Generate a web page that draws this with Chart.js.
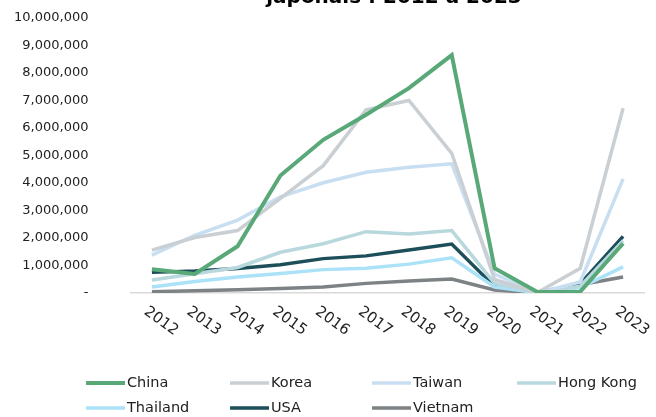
<!DOCTYPE html>
<html>
<head>
<meta charset="utf-8">
<script src="https://cdn.jsdelivr.net/npm/chart.js@4"></script>
<style>
  html, body { margin: 0; padding: 0; background: #fff; }
  #wrap { position: relative; width: 656px; height: 417px; }
</style>
</head>
<body>
<div id="wrap"><canvas id="visitorsChart" width="656" height="417"></canvas></div>
<script>
const years = ['2012', '2013', '2014', '2015', '2016', '2017', '2018', '2019', '2020', '2021', '2022', '2023'];

const china    = [860000, 690000, 1700000, 4270000, 5570000, 6480000, 7450000, 8650000, 900000, 40000, 50000, 1800000];
const korea    = [1560000, 2020000, 2270000, 3440000, 4630000, 6660000, 7000000, 5080000, 490000, 20000, 900000, 6720000];
const taiwan   = [1380000, 2100000, 2650000, 3500000, 4010000, 4390000, 4570000, 4700000, 690000, 5000, 400000, 4150000];
const hongKong = [470000, 700000, 930000, 1480000, 1790000, 2230000, 2150000, 2270000, 350000, 2000, 250000, 1900000];
const thailand = [220000, 420000, 580000, 710000, 850000, 900000, 1050000, 1280000, 220000, 5000, 200000, 950000];
const usa      = [750000, 800000, 890000, 1030000, 1250000, 1350000, 1560000, 1780000, 230000, 20000, 330000, 2060000];
const vietnam  = [50000, 80000, 120000, 160000, 220000, 350000, 440000, 510000, 110000, 5000, 300000, 580000];

const yTicks = [0, 1000000, 2000000, 3000000, 4000000, 5000000, 6000000, 7000000, 8000000, 9000000, 10000000];

const titleText = 'japonais : 2012 à 2023';

const ctx = document.getElementById('visitorsChart').getContext('2d');

const series = [
    { label: 'China', data: china, color: '#58a878', width: 4 },
    { label: 'Korea', data: korea, color: '#c9cfd3', width: 3.5 },
    { label: 'Taiwan', data: taiwan, color: '#c8def1', width: 3.5 },
    { label: 'Hong Kong', data: hongKong, color: '#b8d8dd', width: 3.5 },
    { label: 'Thailand', data: thailand, color: '#abe2f8', width: 3.5 },
    { label: 'USA', data: usa, color: '#1c4f59', width: 3.5 },
    { label: 'Vietnam', data: vietnam, color: '#7d8285', width: 3.5 }
];

// title (only its last line is inside the picture), rotated year labels, grid legend
const extras = {
    id: 'extras',
    afterDraw(chart) {
        const c = chart.ctx;
        const x = chart.scales.x;
        c.save();
        c.fillStyle = '#000';
        c.font = 'bold 20px "DejaVu Sans"';
        c.textAlign = 'center';
        c.textBaseline = 'alphabetic';
        c.fillText(titleText, 394, 3);

        c.font = '15px "DejaVu Sans"';
        c.fillStyle = '#222';
        c.textAlign = 'left';
        c.textBaseline = 'top';
        years.forEach((y, i) => {
            const px = x.getPixelForValue(i);
            c.save();
            c.translate(px - 2, 304);
            c.rotate(36 * Math.PI / 180);
            c.fillText(y, 0, 0);
            c.restore();
        });

        c.font = '14.5px "DejaVu Sans"';
        c.textBaseline = 'middle';
        c.lineCap = 'butt';
        const cols = [86, 230, 372, 517];
        const rows = [383, 408];
        chart.data.datasets.forEach((ds, i) => {
            const lx = cols[i % 4];
            const ly = rows[Math.floor(i / 4)];
            c.strokeStyle = ds.borderColor;
            c.lineWidth = ds.borderWidth;
            c.beginPath();
            c.moveTo(lx, ly);
            c.lineTo(lx + 39, ly);
            c.stroke();
            c.fillStyle = '#222';
            c.fillText(ds.label, lx + 41, ly);
        });
        c.restore();
    }
};

const visitorsChart = new Chart(ctx, {
    type: 'line',
    data: {
        labels: years,
        datasets: series.map(s => ({
            label: s.label,
            data: s.data,
            borderColor: s.color,
            backgroundColor: s.color,
            borderWidth: s.width,
            pointRadius: 0,
            tension: 0,
            fill: false
        }))
    },
    options: {
        responsive: false,
        animation: false,
        layout: { padding: { top: 18, right: 11.5, left: 0, bottom: 0 } },
        plugins: {
            legend: { display: false },
            tooltip: { enabled: false }
        },
        scales: {
            x: {
                offset: true,
                grid: { display: false },
                border: { display: true, color: '#d9d9d9', width: 1.5 },
                ticks: { display: false },
                afterFit(scale) { scale.height = 124; }
            },
            y: {
                min: 0,
                max: 10000000,
                // tick marks are hidden; tickLength only pushes the labels left
                grid: { display: false, drawTicks: true, tickLength: 38 },
                border: { display: false },
                afterBuildTicks(scale) { scale.ticks = yTicks.map(v => ({ value: v })); },
                afterFit(scale) { scale.width = 130.5; },
                ticks: {
                    padding: 4,
                    color: '#222',
                    font: { family: '"DejaVu Sans"', size: 13 },
                    callback: v => v === 0 ? '-' : v.toLocaleString('en-US')
                }
            }
        }
    },
    plugins: [extras]
});
</script>
</body>
</html>
